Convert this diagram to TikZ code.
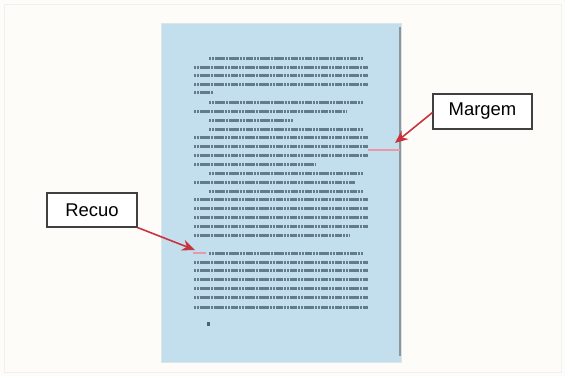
\documentclass[tikz,border=0pt]{standalone}
\usepackage{fontspec}
\setmainfont{Liberation Sans}
\usepackage{xcolor}
\usetikzlibrary{arrows.meta,positioning,calc}
\definecolor{pgbg}{HTML}{FEFCF9}
\definecolor{pgblue}{HTML}{C3DFEE}
\definecolor{pgedge}{HTML}{8C959C}
\definecolor{pgtext}{HTML}{647B8D}
\definecolor{pgred}{HTML}{C8323C}
\definecolor{pgpink}{HTML}{E79AA6}

\begin{document}
\begin{tikzpicture}[
  x=0.02cm, y=-0.02cm,
  font=\fontsize{10.5}{12}\selectfont,
  label box/.style={draw=black!75, line width=0.6pt, fill=white, minimum width=99*0.02cm, minimum height=35*0.02cm, inner sep=2pt},
  txtline/.style={pgtext, line width=0.06cm, dash pattern=on 1.3pt off 0.3pt},
  arr/.style={-{Stealth[length=2.6mm, width=2.2mm]}, pgred, line width=0.9pt},
  pinkmark/.style={pgpink, line width=0.05cm},
]
% ---- background and the page ----
\fill[pgbg] (0,0) rectangle (565,376);
\draw[black!6] (4,4) rectangle (561,372);
\useasboundingbox (0,0) rectangle (565,376);
\node[draw=pgblue!85!black!40, fill=pgblue, minimum width=240*0.02cm, minimum height=339*0.02cm, inner sep=0pt] (page) at (281,192.5) {};
\draw[pgedge, line width=0.045cm] ($(page.north east)+(-1,4)$) -- ($(page.south east)+(-1,-6)$);

% ---- the body text, one line per entry: y / start / end ----
\foreach \ly/\lx/\rx in {58/209/363, 67/194/368, 75/194/368, 84/194/368, 92/194/213,
    102/209/363, 111/194/346, 120/209/293, 129/209/363, 137/194/368, 146/194/368,
    155/194/368, 164/194/315, 173/209/363, 182/194/355, 191/209/363, 199/194/368,
    208/194/368, 217/194/368, 226/194/368, 235/194/350,
    253/209/363, 262/194/368, 270/194/368, 279/194/368, 288/194/368, 297/194/368, 307/194/368}
  \draw[txtline] (\lx,\ly) -- (\rx,\ly);
\draw[pgtext!80!black, line width=0.06cm] (208.5,322) -- (208.5,326);

% ---- margin and indent marks ----
\coordinate (mgL) at (368,150);
\coordinate (mgR) at (400,150);
\draw[pinkmark] (mgL) -- (mgR);
\coordinate (rcL) at (193,253);
\coordinate (rcR) at (206,253);
\draw[pinkmark] (rcL) -- (rcR);

% ---- the two labels ----
\node[label box] (margem) at (482.5,111.5) {Margem};
\node[label box, minimum width=90*0.02cm, minimum height=34*0.02cm] (recuo) at (92,210) {Recuo};
\draw[arr] ($(margem.west)+(0,1)$) -- ($(mgR)+(-5,-7)$);
\draw[arr] (recuo.south east) -- ($(rcL)+(2,-3)$);
\end{tikzpicture}
\end{document}
